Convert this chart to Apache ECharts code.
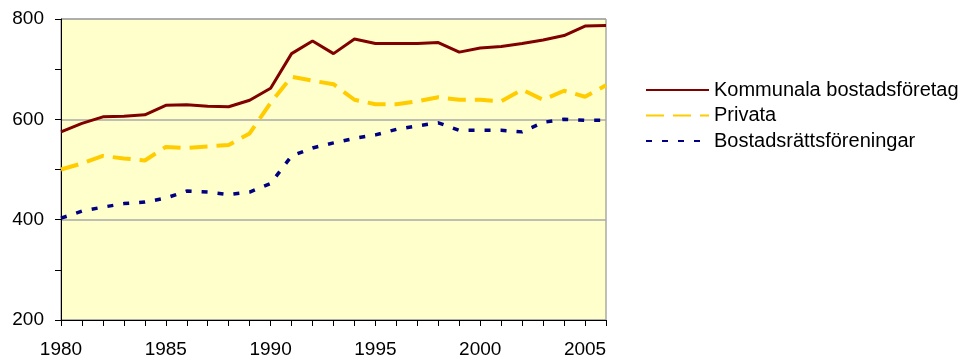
<!DOCTYPE html>
<html>
<head>
<meta charset="utf-8">
<script src="https://cdn.jsdelivr.net/npm/echarts@6/dist/echarts.min.js"></script>
<style>
  html, body { margin: 0; padding: 0; background: #fff; }
  #chart { width: 966px; height: 362px; }
</style>
</head>
<body>
<div id="chart"></div>
<script>
// years on the x axis
const years = ['1980', '1981', '1982', '1983', '1984', '1985', '1986', '1987', '1988', '1989',
    '1990', '1991', '1992', '1993', '1994', '1995', '1996', '1997', '1998', '1999',
    '2000', '2001', '2002', '2003', '2004', '2005', '2006'];

// Kommunala bostadsföretag
const kommunala = [575, 592, 605, 606, 609, 628, 629, 626, 625, 638,
    662, 731, 756, 731, 760, 751, 751, 751, 753, 734,
    742, 745, 751, 758, 767, 786, 787];

// Privata
const privata = [500, 512, 527, 522, 518, 545, 543, 546, 549, 572,
    633, 685, 677, 670, 639, 630, 630, 636, 644, 639,
    639, 636, 659, 639, 657, 645, 668];

// Bostadsrättsföreningar
const brf = [403, 417, 425, 432, 435, 443, 457, 455, 450, 455,
    472, 527, 543, 553, 562, 569, 580, 587, 593, 578,
    578, 578, 575, 594, 600, 598, 598];

const seriesNames = ['Kommunala bostadsföretag', 'Privata', 'Bostadsrättsföreningar'];

let myChart = echarts.init(document.getElementById('chart'));

const textFont = 'Liberation Sans, Arial, sans-serif';

let option = {
    animation: false,
    backgroundColor: '#ffffff',
    grid: {
        left: 61,
        right: 360,
        top: 19,
        bottom: 42,
        show: true,
        backgroundColor: '#FFFFCC',
        borderColor: '#808080',
        borderWidth: 1
    },
    legend: {
        orient: 'vertical',
        left: 645,
        top: 80,
        itemWidth: 63,
        itemHeight: 12,
        itemGap: 5.5,
        padding: 0,
        data: seriesNames,
        // only the line in the legend, no dot
        itemStyle: { opacity: 0 },
        textStyle: { fontSize: 20, lineHeight: 20, color: '#000', fontFamily: textFont }
    },
    xAxis: {
        type: 'category',
        data: years,
        boundaryGap: false,
        axisLine: { lineStyle: { color: '#000', width: 1 } },
        axisTick: { interval: 0, length: 6, lineStyle: { color: '#000' } },
        axisLabel: { interval: 4, margin: 20, fontSize: 19, color: '#000', fontFamily: textFont }
    },
    yAxis: {
        type: 'value',
        min: 200,
        max: 800,
        interval: 200,
        axisLine: { show: true, lineStyle: { color: '#000', width: 1 } },
        axisTick: { show: true, length: 6, lineStyle: { color: '#000' } },
        minorTick: { show: true, splitNumber: 2, length: 6, lineStyle: { color: '#000' } },
        axisLabel: { margin: 17, fontSize: 19, color: '#000', fontFamily: textFont },
        splitLine: { show: true, lineStyle: { color: '#A8A8A8', width: 1.5 } }
    },
    series: [{
        name: seriesNames[0],
        type: 'line',
        data: kommunala,
        symbol: 'none',
        lineStyle: { color: '#800000', width: 3 },
        itemStyle: { color: '#800000' }
    }, {
        name: seriesNames[1],
        type: 'line',
        data: privata,
        symbol: 'none',
        lineStyle: { color: '#FFCC00', width: 4, type: [18, 9] },
        itemStyle: { color: '#FFCC00' }
    }, {
        name: seriesNames[2],
        type: 'line',
        data: brf,
        symbol: 'none',
        lineStyle: { color: '#000080', width: 3.5, type: [6, 10] },
        itemStyle: { color: '#000080' }
    }]
};

myChart.setOption(option);
</script>
</body>
</html>
